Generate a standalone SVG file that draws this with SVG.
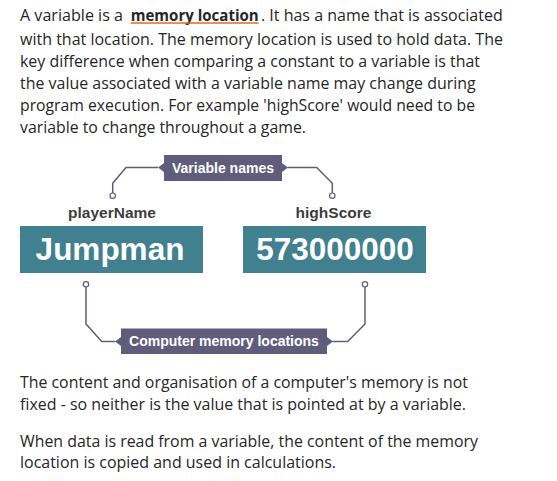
<svg xmlns="http://www.w3.org/2000/svg" width="557" height="481" viewBox="0 0 557 481">
<style>
.p{font-family:"Open Sans","Noto Sans","Liberation Sans",sans-serif;font-size:15.5px;fill:#262626;}
.pb{font-weight:bold;}
.lbl{font-family:"Liberation Sans",Arial,sans-serif;font-size:14px;font-weight:bold;fill:#fff;text-anchor:middle;}
.nm{font-family:"Liberation Sans",Arial,sans-serif;font-size:15.5px;font-weight:bold;fill:#3d3d3d;text-anchor:middle;}
.val{font-family:"Liberation Sans",Arial,sans-serif;font-size:31.5px;font-weight:bold;fill:#fff;text-anchor:middle;}
.box{fill:#40808f;}
.tag{fill:#5f5d7b;}
.con{fill:none;stroke:#5f5d7b;stroke-width:1.5;}
.dot{fill:#fff;stroke:#5f5d7b;stroke-width:1.2;}
</style>
<rect width="557" height="481" fill="#fff"/>
<g id="intro">
<text class="p" x="20" y="21" textLength="103" lengthAdjust="spacingAndGlyphs">A variable is a</text>
<text class="p pb" x="130.7" y="21" textLength="128" lengthAdjust="spacingAndGlyphs">memory location</text>
<line x1="130.7" y1="23" x2="258.6" y2="23" stroke="#e06a1e" stroke-width="1.6"/>
<text class="p" x="261" y="21" textLength="241.7" lengthAdjust="spacingAndGlyphs">. It has a name that is associated</text>
<text class="p" x="20" y="44.5" textLength="483" lengthAdjust="spacingAndGlyphs">with that location. The memory location is used to hold data. The</text>
<text class="p" x="20" y="66.5" textLength="460" lengthAdjust="spacingAndGlyphs">key difference when comparing a constant to a variable is that</text>
<text class="p" x="20" y="88.5" textLength="455.7" lengthAdjust="spacingAndGlyphs">the value associated with a variable name may change during</text>
<text class="p" x="20" y="110.5" textLength="455" lengthAdjust="spacingAndGlyphs">program execution. For example 'highScore' would need to be</text>
<text class="p" x="20" y="132.5" textLength="286" lengthAdjust="spacingAndGlyphs">variable to change throughout a game.</text>
</g>
<g id="connectors">
<path class="con" d="M158,167.5 H126 L112.7,183.3 V193"/>
<circle class="dot" cx="112.7" cy="195.7" r="2.7"/>
<path class="con" d="M287.5,167.5 H316.7 L332.3,183.3 V193"/>
<circle class="dot" cx="332.3" cy="195.7" r="2.7"/>
<path class="con" d="M86,287 V324 L101.7,341.5 H115"/>
<circle class="dot" cx="86" cy="284.3" r="2.7"/>
<path class="con" d="M365,287 V324 L347.7,341.5 H332.5"/>
<circle class="dot" cx="365" cy="284.3" r="2.7"/>
</g>
<g id="label-variable-names">
<path class="tag" d="M164,155 H282 V163 L288,167.5 L282,172 V181 H164 V172 L158,167.5 L164,163 Z"/>
<text class="lbl" x="223" y="173">Variable names</text>
</g>
<g id="node-playerName">
<text class="nm" x="112" y="218">playerName</text>
<rect class="box" x="20" y="226" width="183" height="47"/>
<text class="val" x="110" y="260">Jumpman</text>
</g>
<g id="node-highScore">
<text class="nm" x="333.5" y="218">highScore</text>
<rect class="box" x="243" y="226" width="183" height="47"/>
<text class="val" x="335" y="260">573000000</text>
</g>
<g id="label-memory-locations">
<path class="tag" d="M121,328.5 H327 V337 L333,341.5 L327,346 V354 H121 V346 L115,341.5 L121,337 Z"/>
<text class="lbl" x="224" y="346">Computer memory locations</text>
</g>
<g id="outro">
<text class="p" x="20" y="388" textLength="448" lengthAdjust="spacingAndGlyphs">The content and organisation of a computer's memory is not</text>
<text class="p" x="20" y="409.5" textLength="446" lengthAdjust="spacingAndGlyphs">fixed - so neither is the value that is pointed at by a variable.</text>
<text class="p" x="20" y="446.5" textLength="458" lengthAdjust="spacingAndGlyphs">When data is read from a variable, the content of the memory</text>
<text class="p" x="20" y="468" textLength="316" lengthAdjust="spacingAndGlyphs">location is copied and used in calculations.</text>
</g>
</svg>
